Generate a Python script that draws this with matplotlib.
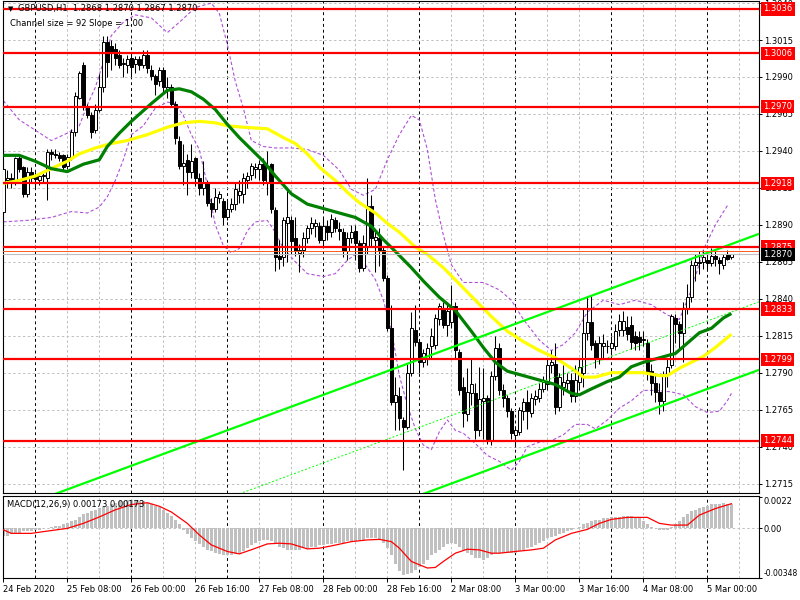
import numpy as np
import matplotlib
matplotlib.use("Agg")
import matplotlib.pyplot as plt
from matplotlib.transforms import blended_transform_factory

plt.rcParams["font.family"] = "DejaVu Sans"
plt.rcParams["font.size"] = 6

# GBPUSD H1, prices kept as points above 1.0000 (2870 -> 1.2870)
OPEN = [2899, 2920, 2922, 2919, 2935, 2929, 2911, 2926, 2924, 2920, 2923, 2922, 2939, 2938, 2937, 2937, 2930, 2936, 2953, 2976,
        2998, 2970, 2964, 2954, 2968, 2983, 3014, 3011, 3009, 3005, 2999, 2998, 3003, 2999, 3002, 2998, 3005, 2995, 2991, 2987,
        2995, 2982, 2983, 2972, 2947, 2930, 2934, 2926, 2935, 2922, 2915, 2918, 2905, 2901, 2908, 2906, 2895, 2901, 2904, 2910,
        2911, 2920, 2924, 2928, 2928, 2931, 2919, 2931, 2900, 2869, 2868, 2891, 2893, 2881, 2871, 2873, 2881, 2888, 2889, 2889,
        2880, 2889, 2885, 2893, 2887, 2885, 2872, 2881, 2886, 2878, 2861, 2876, 2903, 2880, 2881, 2873, 2854, 2820, 2770, 2774,
        2758, 2753, 2790, 2819, 2811, 2797, 2800, 2808, 2809, 2826, 2834, 2822, 2824, 2835, 2804, 2780, 2762, 2776, 2776, 2751,
        2771, 2773, 2744, 2788, 2807, 2778, 2773, 2764, 2748, 2750, 2764, 2770, 2763, 2772, 2773, 2779, 2782, 2795, 2796, 2767,
        2780, 2783, 2785, 2774, 2784, 2790, 2817, 2824, 2810, 2799, 2808, 2808, 2807, 2808, 2819, 2819, 2821, 2822, 2815, 2814,
        2812, 2810, 2791, 2783, 2777, 2771, 2789, 2795, 2827, 2823, 2817, 2834, 2841, 2863, 2865, 2865, 2866, 2864, 2869, 2866,
        2863, 2870, 2868]
HIGH = [2930, 2927, 2925, 2936, 2937, 2930, 2929, 2929, 2926, 2925, 2926, 2941, 2941, 2941, 2939, 2938, 2938, 2955, 2980, 2994,
        3000, 2972, 2966, 2972, 2992, 3018, 3018, 3015, 3013, 3008, 3003, 3005, 3006, 3004, 3004, 3008, 3008, 2998, 2992, 2997,
        2997, 2990, 2985, 2974, 2950, 2945, 2938, 2945, 2936, 2925, 2933, 2920, 2908, 2915, 2913, 2908, 2906, 2908, 2918, 2920,
        2925, 2926, 2932, 2932, 2934, 2935, 2940, 2932, 2902, 2880, 2895, 2915, 2896, 2895, 2877, 2885, 2890, 2895, 2894, 2892,
        2895, 2893, 2897, 2895, 2892, 2888, 2885, 2890, 2890, 2880, 2883, 2922, 2910, 2886, 2888, 2876, 2856, 2836, 2787, 2780,
        2760, 2796, 2831, 2836, 2813, 2806, 2810, 2820, 2830, 2837, 2838, 2838, 2849, 2838, 2806, 2787, 2793, 2800, 2783, 2794,
        2793, 2775, 2791, 2815, 2810, 2782, 2775, 2766, 2754, 2767, 2773, 2778, 2776, 2778, 2783, 2788, 2800, 2805, 2810, 2790,
        2795, 2790, 2790, 2795, 2800, 2833, 2842, 2842, 2812, 2815, 2816, 2812, 2815, 2823, 2830, 2832, 2828, 2828, 2818, 2818,
        2818, 2813, 2796, 2790, 2783, 2791, 2800, 2830, 2830, 2825, 2838, 2850, 2866, 2870, 2872, 2873, 2872, 2874, 2873, 2868,
        2870, 2873, 2870]
LOW = [2897, 2915, 2915, 2917, 2926, 2909, 2909, 2918, 2915, 2917, 2918, 2907, 2934, 2935, 2933, 2927, 2928, 2934, 2950, 2975,
       2968, 2962, 2949, 2952, 2966, 2980, 2990, 2995, 2998, 2996, 2990, 2993, 2990, 2993, 2995, 2996, 2993, 2988, 2978, 2984,
       2980, 2976, 2970, 2945, 2928, 2917, 2910, 2922, 2916, 2910, 2910, 2903, 2895, 2899, 2905, 2890, 2893, 2899, 2900, 2905,
       2905, 2915, 2920, 2922, 2920, 2917, 2910, 2898, 2859, 2860, 2862, 2865, 2870, 2869, 2858, 2868, 2878, 2884, 2882, 2878,
       2876, 2880, 2882, 2885, 2880, 2868, 2866, 2878, 2866, 2858, 2859, 2870, 2875, 2858, 2862, 2852, 2818, 2768, 2751, 2751,
       2724, 2752, 2788, 2808, 2790, 2794, 2795, 2800, 2806, 2822, 2820, 2815, 2820, 2800, 2775, 2753, 2757, 2768, 2745, 2747,
       2745, 2742, 2741, 2785, 2775, 2767, 2760, 2745, 2740, 2748, 2758, 2752, 2760, 2768, 2770, 2777, 2778, 2790, 2762, 2764,
       2775, 2778, 2770, 2770, 2778, 2780, 2812, 2805, 2793, 2796, 2800, 2803, 2802, 2805, 2815, 2815, 2812, 2806, 2805, 2805,
       2808, 2785, 2775, 2770, 2762, 2764, 2780, 2793, 2810, 2805, 2797, 2830, 2838, 2852, 2857, 2860, 2860, 2862, 2862, 2857,
       2860, 2866, 2867]
CLOSE = [2928, 2922, 2920, 2935, 2928, 2911, 2926, 2922, 2921, 2923, 2924, 2939, 2938, 2937, 2935, 2929, 2936, 2953, 2977, 2993,
         2970, 2964, 2953, 2968, 2983, 3014, 3000, 3006, 3003, 2998, 2999, 3002, 2997, 3002, 2998, 3005, 2996, 2991, 2985, 2995,
         2983, 2983, 2972, 2949, 2930, 2932, 2926, 2933, 2922, 2915, 2918, 2905, 2901, 2909, 2911, 2895, 2901, 2904, 2914, 2913,
         2922, 2923, 2930, 2929, 2931, 2920, 2930, 2901, 2868, 2867, 2893, 2895, 2879, 2872, 2873, 2881, 2888, 2891, 2891, 2880,
         2889, 2885, 2894, 2888, 2886, 2872, 2881, 2885, 2878, 2861, 2878, 2903, 2881, 2882, 2873, 2854, 2820, 2770, 2775, 2759,
         2753, 2790, 2820, 2811, 2797, 2803, 2807, 2815, 2827, 2835, 2822, 2832, 2835, 2805, 2778, 2763, 2777, 2782, 2751, 2772,
         2773, 2745, 2788, 2807, 2778, 2773, 2764, 2749, 2751, 2765, 2770, 2764, 2773, 2774, 2779, 2784, 2795, 2797, 2767, 2787,
         2784, 2785, 2774, 2785, 2794, 2817, 2824, 2809, 2799, 2810, 2810, 2808, 2810, 2818, 2825, 2825, 2816, 2811, 2810, 2811,
         2813, 2790, 2783, 2777, 2771, 2788, 2794, 2828, 2823, 2817, 2834, 2841, 2863, 2865, 2864, 2868, 2864, 2869, 2867, 2864,
         2868, 2867, 2870]

# moving averages and bands (bar index, price points)
GREEN_BARS = [0, 4, 8, 12, 16, 20, 24, 26, 29, 32, 37, 41, 44, 47, 50, 53, 56, 59, 62, 65, 68, 72, 76, 80, 84, 88, 92, 95,
              98, 102, 105, 109, 113, 117, 120, 123, 126, 130, 134, 138, 142, 144, 147, 151, 154, 157, 160, 164, 168, 171,
              174, 177, 180, 182]
GREEN_VALS = [2937, 2937, 2933, 2928, 2926, 2931, 2934, 2943, 2952, 2960, 2972, 2981, 2982, 2980, 2975, 2968, 2958, 2949,
              2941, 2933, 2923, 2911, 2904, 2901, 2898, 2895, 2889, 2880, 2872, 2861, 2852, 2841, 2832, 2818, 2807, 2797, 2791,
              2788, 2785, 2782, 2776, 2775, 2779, 2784, 2787, 2794, 2797, 2800, 2803, 2810, 2817, 2820, 2827, 2830]
YELLOW_BARS = [0, 4, 8, 12, 16, 19, 23, 27, 31, 36, 41, 45, 49, 53, 56, 60, 66, 68, 70, 73, 76, 79, 83, 86, 89, 93, 96, 99,
               103, 106, 110, 114, 118, 122, 126, 130, 134, 138, 142, 145, 148, 152, 156, 160, 164, 166, 169, 172, 175, 178, 182]
YELLOW_VALS = [2918, 2920, 2923, 2928, 2933, 2938, 2942, 2945, 2947, 2951, 2956, 2959, 2960, 2959, 2957, 2956, 2955, 2952,
               2949, 2945, 2938, 2929, 2920, 2912, 2905, 2898, 2891, 2885, 2875, 2870, 2861, 2850, 2839, 2828, 2818, 2811, 2805,
               2800, 2793, 2787, 2787, 2790, 2790, 2790, 2788, 2788, 2793, 2797, 2801, 2807, 2816]
UPPER_BARS = [0, 4, 8, 12, 16, 19, 21, 23, 25, 27, 30, 33, 37, 41, 44, 48, 52, 54, 56, 58, 60, 62, 65, 68, 72, 76, 80, 84, 87,
              90, 93, 96, 99, 102, 104, 106, 108, 110, 112, 115, 120, 124, 127, 130, 134, 137, 140, 143, 146, 150, 154, 158,
              162, 166, 169, 172, 175, 178, 181]
UPPER_VALS = [2974, 2961, 2954, 2947, 2952, 2957, 2971, 2983, 3000, 3018, 3027, 3032, 3030, 3020, 3027, 3037, 3040, 3033,
              3012, 2987, 2969, 2947, 2943, 2942, 2942, 2941, 2937, 2927, 2914, 2910, 2914, 2934, 2951, 2964, 2961, 2941, 2907,
              2883, 2863, 2851, 2851, 2846, 2839, 2826, 2812, 2805, 2809, 2817, 2831, 2839, 2836, 2839, 2836, 2829, 2826, 2846,
              2873, 2890, 2903]
LOWER_BARS = [0, 6, 12, 17, 21, 24, 26, 28, 30, 32, 35, 38, 41, 43, 45, 47, 49, 51, 53, 55, 57, 59, 61, 63, 66, 68, 70, 73,
              76, 80, 83, 86, 88, 90, 93, 95, 97, 99, 101, 103, 105, 107, 109, 111, 113, 115, 118, 121, 124, 127, 129, 131,
              134, 137, 140, 143, 146, 148, 151, 154, 157, 160, 163, 167, 170, 173, 176, 179, 181, 182]
LOWER_VALS = [2892, 2893, 2895, 2899, 2898, 2902, 2909, 2920, 2934, 2951, 2957, 2969, 2973, 2972, 2964, 2951, 2941, 2917,
              2890, 2876, 2871, 2874, 2886, 2892, 2893, 2885, 2874, 2865, 2857, 2855, 2857, 2866, 2870, 2865, 2853, 2839, 2819,
              2788, 2768, 2752, 2741, 2738, 2750, 2758, 2751, 2749, 2742, 2734, 2730, 2724, 2730, 2740, 2743, 2744, 2748, 2755,
              2755, 2752, 2758, 2766, 2771, 2778, 2778, 2777, 2775, 2767, 2763, 2764, 2771, 2776]

# regression channel (slope 1 point per bar, size 92)
CH_TOP = ([13, 189], [2708, 2884])
CH_MID = ([59, 189], [2708, 2838])
CH_BOT = ([105, 189], [2708, 2792])

LEVELS = [3036, 3006, 2970, 2918, 2875, 2833, 2799, 2744]
ASK_LINE = 2872
BID = 2870

# MACD(12,26,9), units of 0.0001
MACD_HIST = [-5, -5, -4, -3, -3, -2, -2, -2, -1, -1,
             0, 0, 1, 2, 2, 3, 4, 5, 6, 8,
             10, 11, 12, 13, 14, 15, 16, 17, 18, 19,
             19, 20, 20, 20, 19, 19, 18, 17, 16, 15,
             13, 11, 9, 6, 3, -1, -4, -7, -9, -11,
             -13, -15, -16, -17, -18, -19, -19, -19, -18, -17,
             -16, -14, -12, -10, -9, -8, -8, -9, -11, -13,
             -14, -15, -15, -15, -15, -14, -14, -13, -13, -12,
             -12, -11, -11, -10, -10, -10, -9, -9, -9, -8,
             -8, -7, -7, -7, -8, -10, -14, -19, -25, -30,
             -33, -32, -31, -29, -27, -25, -22, -19, -17, -15,
             -13, -11, -10, -11, -13, -15, -17, -19, -21, -21,
             -22, -21, -19, -17, -17, -17, -17, -17, -17, -16,
             -15, -14, -13, -12, -10, -9, -7, -6, -5, -4,
             -3, -2, -1, 0, 1, 3, 4, 5, 6, 6,
             7, 7, 8, 8, 8, 9, 9, 9, 8, 7,
             5, 3, 1, 0, -1, -1, -1, 1, 3, 5,
             8, 10, 12, 13, 14, 15, 16, 17, 17, 17,
             18, 17, 17.3]
SIGNAL_BARS = [0, 2, 7, 10, 16, 20, 24, 28, 32, 36, 39, 42, 46, 49, 52, 56, 59, 62, 66, 69, 72, 76, 79, 82, 87, 91, 94, 97,
               99, 102, 106, 108, 110, 113, 116, 119, 122, 124, 128, 132, 135, 138, 142, 146, 149, 152, 156, 161, 164, 167,
               171, 174, 178, 182]
SIGNAL_VALS = [-1, -3.5, -3.5, -2.3, 0, 3.5, 8, 13, 16.7, 18, 15.5, 11.5, 3.5, -4.6, -11.6, -16.2, -17.9, -15, -10.9, -10.4,
               -10.9, -14.4, -13.9, -12.3, -9.3, -8.1, -7.7, -9.3, -13.9, -23.2, -27.8, -27.4, -23.2, -17.4, -14.6, -15.1,
               -17.4, -17.4, -16.2, -15.1, -13.9, -8.1, -3.5, -0.7, 3.5, 6.3, 7.7, 7.7, 3.5, 2.3, 2.3, 9.3, 13.9, 17.3]

X_TICK_BARS = [0, 16, 32, 48, 64, 80, 96, 112, 128, 144, 160, 176]
X_TICK_LABELS = ["24 Feb 2020", "25 Feb 08:00", "26 Feb 00:00", "26 Feb 16:00", "27 Feb 08:00", "28 Feb 00:00",
                 "28 Feb 16:00", "2 Mar 08:00", "3 Mar 00:00", "3 Mar 16:00", "4 Mar 08:00", "5 Mar 00:00"]
DAY_BARS = [8, 32, 56, 80, 104, 128, 152, 176]


def pr(v):
    return 1 + np.asarray(v, dtype=float) / 10000


o, h, l, c = pr(OPEN), pr(HIGH), pr(LOW), pr(CLOSE)
idx = np.arange(len(c))
XMIN, XMAX = -0.15, 188.9

fig = plt.figure(figsize=(8, 6), dpi=100)
ax = fig.add_axes([2.7 / 800, 1 - 493 / 600, 756.3 / 800, 492 / 600])
ax2 = fig.add_axes([2.7 / 800, 1 - 578 / 600, 756.3 / 800, 82 / 600])

gray_ls = (0, (2.5, 2.5))
yt = np.arange(2715, 3041, 25)
for a in (ax, ax2):
    for b in range(0, 189, 8):
        if b in DAY_BARS:
            a.axvline(b, color="black", lw=0.7, ls=(0, (3, 3)), zorder=1)
        else:
            a.axvline(b, color="#c0c0c0", lw=0.7, ls=gray_ls, zorder=1)
for v in yt:
    ax.axhline(pr(v), color="#c0c0c0", lw=0.7, ls=gray_ls, zorder=1)

# bands, channel, candles, averages
ax.plot(UPPER_BARS, pr(UPPER_VALS), color="#b050d8", lw=0.8, ls=(0, (3, 2)), zorder=2)
ax.plot(LOWER_BARS, pr(LOWER_VALS), color="#b050d8", lw=0.8, ls=(0, (3, 2)), zorder=2)

ax.vlines(idx, l, h, color="black", lw=0.75, zorder=3)
up = c >= o
body = np.maximum(np.abs(c - o), 0.00003)
ax.bar(idx[up], body[up], bottom=o[up], width=0.72, color="white", edgecolor="black", lw=0.7, zorder=4)
ax.bar(idx[~up], body[~up], bottom=c[~up], width=0.72, color="black", edgecolor="black", lw=0.7, zorder=4)

ax.plot(YELLOW_BARS, pr(YELLOW_VALS), color="#ffff00", lw=2.3, zorder=5, solid_capstyle="butt")
ax.plot(GREEN_BARS, pr(GREEN_VALS), color="#008000", lw=2.3, zorder=5, solid_capstyle="butt")

ax.plot(CH_TOP[0], pr(CH_TOP[1]), color="#00ff00", lw=1.6, zorder=6)
ax.plot(CH_BOT[0], pr(CH_BOT[1]), color="#00ff00", lw=1.6, zorder=6)
ax.plot(CH_MID[0], pr(CH_MID[1]), color="#00ff00", lw=0.7, ls=(0, (2, 2)), zorder=6)

for lv in LEVELS:
    ax.axhline(pr(lv), color="#ff0000", lw=1.6, zorder=7)
ax.axhline(pr(ASK_LINE), color="#ff5a1e", lw=0.7, zorder=7)
ax.axhline(pr(BID), color="#c0c0c0", lw=0.8, zorder=7)

ax.set_xlim(XMIN, XMAX)
ax.set_ylim(pr(2708.6), pr(3041.4))
ax.yaxis.tick_right()
ax.set_yticks(pr(yt))
ax.set_yticklabels(["%.4f" % v for v in pr(yt)])
ax.tick_params(axis="y", length=2.5, width=0.7, pad=1.5, labelsize=6)
ax.set_xticks([])

tr = blended_transform_factory(ax.transAxes, ax.transData)
for lv in LEVELS:
    ax.text(1.0055, pr(lv), "%.4f" % pr(lv), transform=tr, color="white", fontsize=6, va="center", ha="left",
            clip_on=False, zorder=10, bbox=dict(boxstyle="square,pad=0.28", fc="#ff0000", ec="none"))
ax.text(1.0055, pr(BID), "%.4f" % pr(BID), transform=tr, color="white", fontsize=6, va="center", ha="left",
        clip_on=False, zorder=10, bbox=dict(boxstyle="square,pad=0.28", fc="black", ec="none"))

for s in ax.spines.values():
    s.set_linewidth(0.8)

# MACD panel
hist = np.array(MACD_HIST) / 10000
ax2.bar(idx, hist, width=0.72, color="#c0c0c0", zorder=2)
ax2.plot(SIGNAL_BARS, np.array(SIGNAL_VALS) / 10000, color="#ff0000", lw=0.9, zorder=3)
ax2.axhline(0, color="#c0c0c0", lw=0.7, ls=gray_ls, zorder=1)
ax2.set_xlim(XMIN, XMAX)
ax2.set_ylim(-0.00348, 0.00227)
ax2.yaxis.tick_right()
ax2.set_yticks([0.0022, 0.0, -0.00348])
ax2.set_yticklabels(["0.0022", "0.00", "-0.00348"])
labs = ax2.get_yticklabels()
labs[0].set_va("top")
labs[2].set_va("bottom")
labs[2].set_fontsize(5.5)
ax2.tick_params(axis="y", length=2.5, width=0.7, pad=1.0, labelsize=6)
labs[2].set_fontsize(5.5)
ax2.set_xticks(X_TICK_BARS)
ax2.set_xticklabels(X_TICK_LABELS)
for t in ax2.get_xticklabels():
    t.set_ha("left")
ax2.tick_params(axis="x", length=3, width=0.7, pad=2, labelsize=6)
for s in ax2.spines.values():
    s.set_linewidth(0.8)
ax2.text(0.006, 0.9, "MACD(12,26,9) 0.00173 0.00173", transform=ax2.transAxes, fontsize=6, va="center", ha="left")

# header
fig.text(8 / 800, 1 - 9 / 600, "\u25bc", fontsize=5, va="center", ha="left")
fig.text(18 / 800, 1 - 9 / 600, "GBPUSD,H1  1.2868 1.2870 1.2867 1.2870", fontsize=6, va="center", ha="left")
fig.text(10 / 800, 1 - 23 / 600, "Channel size = 92 Slope = 1.00", fontsize=6, va="center", ha="left")

fig.savefig("out.png", dpi=100)
